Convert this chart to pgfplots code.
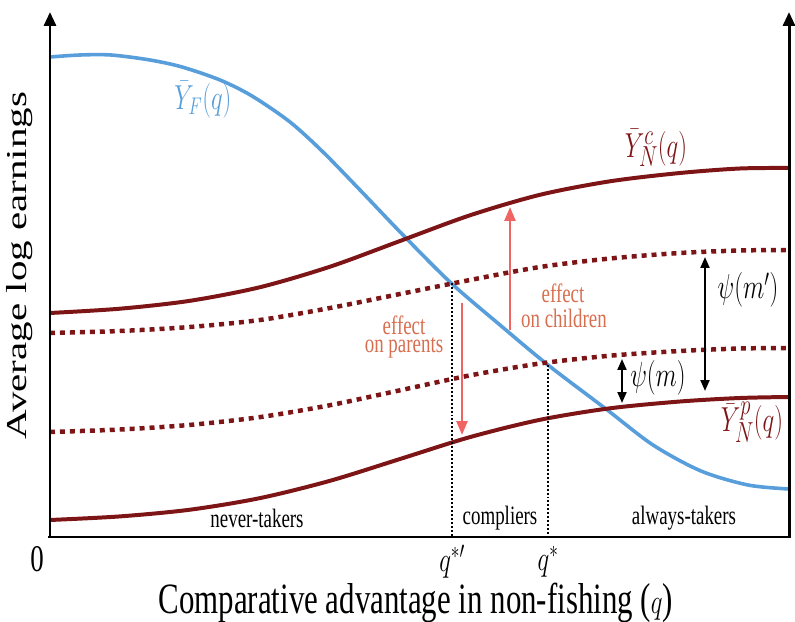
\documentclass[border=0pt]{standalone}
\usepackage{graphicx}
\usepackage{fontspec}
\setmainfont{Liberation Serif}
\usepackage{pgfplots}
\pgfplotsset{compat=1.18}
\usetikzlibrary{arrows.meta}

\definecolor{fblue}{RGB}{88,158,218}
\definecolor{nred}{RGB}{125,20,22}
\definecolor{effarrow}{RGB}{240,100,100}
\definecolor{efftext}{RGB}{215,110,80}

% the reference is stretched vertically
\newcommand{\vs}[1]{\scalebox{1}[1.4]{#1}}

\begin{document}
\begin{tikzpicture}
\begin{axis}[
    scale only axis,
    width=739bp, height=522bp,
    xmin=50, xmax=789, ymin=0, ymax=522,
    axis line style={draw=none},
    ytick=\empty,
    xtick={452,548},
    xticklabels={\vs{$q^{*\prime}$},\vs{$q^{*}$}},
    major tick length=0pt,
    xticklabel style={font=\fontsize{27}{29}\selectfont, anchor=center, yshift=-25pt},
    clip=false,
    xlabel={\vs{Comparative advantage in non-fishing ($q$)}},
    ylabel={\scalebox{1.42}[1]{Average log earnings}},
    xlabel style={font=\fontsize{31}{33}\selectfont, at={(axis description cs:0.495,-0.127)}, anchor=center},
    ylabel style={font=\fontsize{29}{31}\selectfont, at={(axis description cs:-0.041,0.52)}, anchor=center},
]
% fishing earnings
\addplot[fblue, line width=3.6pt, smooth] coordinates {
  (50,480) (80,482) (111,482) (150,477) (182,470) (220,457) (252,441)
  (290,415) (323,385) (360,347) (403,302) (451,254) (500,212) (548,172)
  (606,128) (653,92) (701,66) (748,52) (789,48)};
% children non-fishing earnings
\addplot[nred, line width=4pt, smooth] coordinates {
  (50,224) (120,228.3) (190,236.2) (260,249.8) (330,270.3) (400,296)
  (470,321.7) (540,342.2) (610,355.7) (680,364) (740,368.5) (789,369)};
% upper dotted
\addplot[nred, line width=4.5pt, dash pattern=on 5pt off 5pt, smooth] coordinates {
  (50,204) (120,206) (190,210) (260,217) (330,229) (400,243)
  (470,257) (540,270) (610,278.5) (680,284) (740,286.5) (789,287)};
% lower dotted
\addplot[nred, line width=4.5pt, dash pattern=on 5pt off 5pt, smooth] coordinates {
  (50,105) (120,107.5) (190,112.1) (260,119.9) (330,131.8) (400,146.7)
  (470,161.6) (540,173.5) (610,181.3) (680,186) (740,188.5) (789,189)};
% parents non-fishing earnings
\addplot[nred, line width=4pt, smooth] coordinates {
  (50,17) (120,20.6) (190,27.3) (260,38.9) (330,56.2) (400,78)
  (470,99.9) (540,117.2) (610,128.7) (680,135.5) (740,139) (789,140)};

% axes
\draw[line width=3pt, -{Triangle[width=12pt,length=14pt]}] (axis cs:50,0) -- (axis cs:50,525);
\draw[line width=3pt, -{Triangle[width=12pt,length=14pt]}] (axis cs:789,0) -- (axis cs:789,525);
\draw[line width=3pt] (axis cs:48.5,0) -- (axis cs:790.5,0);

% thresholds
\draw[line width=2pt, dash pattern=on 2pt off 2pt] (axis cs:452,254) -- (axis cs:452,0);
\draw[line width=2pt, dash pattern=on 2pt off 2pt] (axis cs:548,172) -- (axis cs:548,0);

% effect arrows
\draw[effarrow, line width=2.5pt, -{Triangle[width=11pt,length=14pt]}] (axis cs:510,207) -- (axis cs:510,330);
\draw[effarrow, line width=2.5pt, -{Triangle[width=11pt,length=14pt]}] (axis cs:462,234) -- (axis cs:462,102);
\node[efftext, font=\fontsize{19}{21}\selectfont] at (axis cs:404,212) {\vs{effect}};
\node[efftext, font=\fontsize{19}{21}\selectfont] at (axis cs:404,189) {\vs{on parents}};
\node[efftext, font=\fontsize{19}{21}\selectfont] at (axis cs:563,244) {\vs{effect}};
\node[efftext, font=\fontsize{19}{21}\selectfont] at (axis cs:564,219) {\vs{on children}};

% psi arrows
\draw[line width=2pt, {Triangle[width=9pt,length=11pt]}-{Triangle[width=9pt,length=11pt]}] (axis cs:705,280) -- (axis cs:705,146);
\draw[line width=2pt, {Triangle[width=9pt,length=11pt]}-{Triangle[width=9pt,length=11pt]}] (axis cs:622,178) -- (axis cs:622,134);
\node[font=\fontsize{25}{27}\selectfont] at (axis cs:748,247) {\vs{$\psi(m')$}};
\node[font=\fontsize{25}{27}\selectfont] at (axis cs:658,159) {\vs{$\psi(m)$}};

% curve labels
\node[fblue, font=\fontsize{27}{29}\selectfont] at (axis cs:203,437) {\vs{$\bar{Y}_F(q)$}};
\node[nred, font=\fontsize{29}{31}\selectfont] at (axis cs:656,389) {\vs{$\bar{Y}^c_N(q)$}};
\node[nred, font=\fontsize{28}{30}\selectfont] at (axis cs:752,115) {\vs{$\bar{Y}^p_N(q)$}};

% groups
\node[font=\fontsize{19}{21}\selectfont] at (axis cs:257,19) {\vs{never-takers}};
\node[font=\fontsize{19}{21}\selectfont] at (axis cs:500,19) {\vs{compliers}};
\node[font=\fontsize{19}{21}\selectfont] at (axis cs:684,19) {\vs{always-takers}};

\node[font=\fontsize{27}{29}\selectfont] at (axis cs:37,-22) {\vs{0}};

\coordinate (bl) at (axis cs:0,-85);
\coordinate (tr) at (axis cs:795,537);
\end{axis}
\pgfresetboundingbox
\path[use as bounding box] (bl) rectangle (tr);
\end{tikzpicture}
\end{document}
